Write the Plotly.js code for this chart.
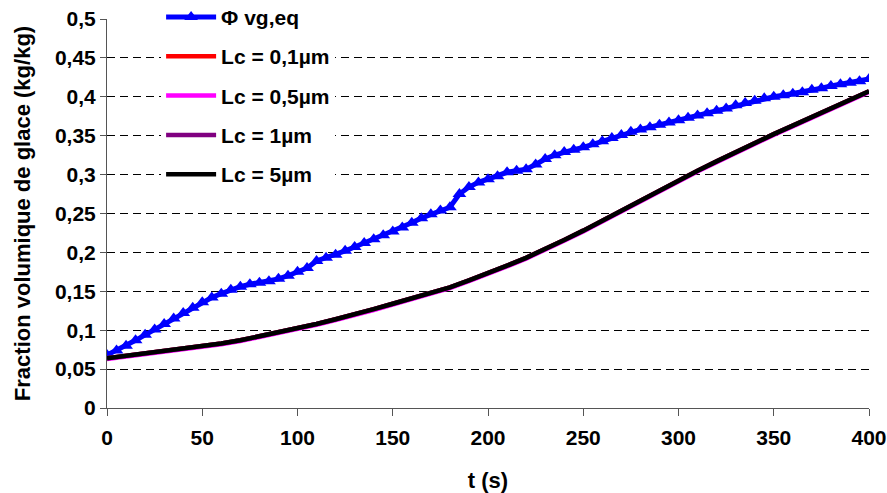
<!DOCTYPE html>
<html>
<head>
<meta charset="utf-8">
<script src="https://cdn.plot.ly/plotly-3.0.1.min.js"></script>
<style>html,body{margin:0;padding:0;background:#fff;}#chart{width:887px;height:493px;}</style>
</head>
<body>
<div id="chart"></div>
<script>
// Φ vg,eq series (every 5 s)
const tPhi = [0,5,10,15,20,25,30,35,40,45,50,55,60,65,70,75,80,85,90,95,100,105,110,115,120,125,130,135,140,145,150,155,160,165,170,175,180,185,190,195,200,205,210,215,220,225,230,235,240,245,250,255,260,265,270,275,280,285,290,295,300,305,310,315,320,325,330,335,340,345,350,355,360,365,370,375,380,385,390,395,400];
const phiVgEq = [0.068,0.074,0.080,0.087,0.094,0.101,0.108,0.115,0.122,0.129,0.136,0.142,0.147,0.152,0.156,0.159,0.161,0.163,0.166,0.170,0.175,0.180,0.189,0.193,0.197,0.202,0.207,0.212,0.217,0.222,0.227,0.232,0.238,0.244,0.249,0.254,0.258,0.275,0.284,0.290,0.294,0.298,0.303,0.305,0.307,0.313,0.320,0.325,0.329,0.332,0.335,0.339,0.343,0.347,0.351,0.355,0.358,0.361,0.364,0.367,0.370,0.373,0.376,0.379,0.382,0.385,0.389,0.392,0.395,0.398,0.400,0.402,0.404,0.406,0.409,0.411,0.414,0.416,0.418,0.420,0.423];

// Lc series (every 10 s)
const tLc = [0,10,20,30,40,50,60,70,80,90,100,110,120,130,140,150,160,170,180,190,200,210,220,230,240,250,260,270,280,290,300,310,320,330,340,350,360,370,380,390,400];
const lc01 = [0.064,0.067,0.070,0.073,0.076,0.079,0.083,0.087,0.092,0.097,0.102,0.108,0.114,0.120,0.127,0.134,0.141,0.147,0.155,0.164,0.173,0.183,0.193,0.204,0.216,0.228,0.241,0.254,0.267,0.280,0.293,0.305,0.317,0.329,0.341,0.352,0.363,0.374,0.385,0.396,0.407];
const lc05 = [0.063,0.066,0.069,0.072,0.075,0.078,0.082,0.086,0.091,0.096,0.101,0.107,0.113,0.119,0.126,0.133,0.140,0.146,0.154,0.163,0.172,0.182,0.192,0.203,0.215,0.227,0.240,0.253,0.266,0.279,0.292,0.304,0.316,0.328,0.340,0.351,0.362,0.373,0.384,0.395,0.406];
const lc1  = [0.064,0.067,0.070,0.073,0.076,0.079,0.083,0.087,0.092,0.097,0.102,0.108,0.114,0.120,0.127,0.134,0.141,0.147,0.155,0.164,0.173,0.183,0.193,0.204,0.216,0.228,0.241,0.254,0.267,0.280,0.293,0.305,0.317,0.329,0.341,0.352,0.363,0.374,0.385,0.396,0.407];
const lc5  = [0.064,0.067,0.070,0.073,0.076,0.079,0.083,0.087,0.092,0.097,0.102,0.108,0.114,0.120,0.127,0.134,0.141,0.147,0.155,0.164,0.173,0.183,0.193,0.204,0.216,0.228,0.241,0.254,0.267,0.280,0.293,0.305,0.317,0.329,0.341,0.352,0.363,0.374,0.385,0.396,0.407];

const seriesNames = ['Φ vg,eq','Lc = 0,1µm','Lc = 0,5µm','Lc = 1µm','Lc = 5µm'];
const xTickVals = [0,50,100,150,200,250,300,350,400];
const xTickText = ['0','50','100','150','200','250','300','350','400'];
const yTickVals = [0,0.05,0.1,0.15,0.2,0.25,0.3,0.35,0.4,0.45,0.5];
const yTickText = ['0','0,05','0,1','0,15','0,2','0,25','0,3','0,35','0,4','0,45','0,5'];

const FONT = 'Liberation Sans, Arial, sans-serif';
const lcColors = ['#ff0000','#ff00ff','#800080','#000000'];
const lcData = [lc01, lc05, lc1, lc5];

const traces = [{
  x: tPhi, y: phiVgEq, name: seriesNames[0], type: 'scatter', mode: 'lines+markers',
  line: {color: '#0000ff', width: 5},
  marker: {symbol: 'triangle-up', size: 12, color: '#0000ff'},
  legendgroup: 'g0'
}];
lcData.forEach((d, i) => {
  traces.push({
    x: tLc, y: d, name: seriesNames[i + 1], type: 'scatter', mode: 'lines',
    line: {color: lcColors[i], width: 4.5},
    legendgroup: 'g' + (i + 1)
  });
});

const layout = {
  width: 887, height: 493,
  margin: {l: 107, r: 18, t: 19, b: 85, autoexpand: false},
  paper_bgcolor: '#ffffff', plot_bgcolor: '#ffffff',
  font: {family: FONT, size: 21, color: '#000', weight: 'bold'},
  showlegend: true,
  legend: {
    x: 0.071, y: 1.057, xanchor: 'left', yanchor: 'top',
    bgcolor: '#ffffff', borderwidth: 0,
    font: {family: FONT, size: 21, color: '#000', weight: 'bold'},
    tracegroupgap: 9, itemwidth: 50
  },
  xaxis: {
    range: [0, 400], tickvals: xTickVals, ticktext: xTickText,
    ticks: 'outside', ticklen: 7, tickcolor: '#555', tickwidth: 1,
    ticklabelstandoff: 4,
    showline: true, linecolor: '#555', linewidth: 1,
    showgrid: false, zeroline: false,
    tickfont: {family: FONT, size: 21, color: '#000', weight: 'bold'},
    title: {text: 't (s)', font: {family: FONT, size: 22, color: '#000', weight: 'bold'}, standoff: 24}
  },
  yaxis: {
    range: [0, 0.5], tickvals: yTickVals, ticktext: yTickText,
    ticks: 'outside', ticklen: 6, tickcolor: '#555', tickwidth: 1,
    showline: true, linecolor: '#555', linewidth: 1,
    showgrid: true, gridcolor: '#000', gridwidth: 1, griddash: '8px,5px',
    zeroline: false,
    tickfont: {family: FONT, size: 21, color: '#000', weight: 'bold'},
    title: {text: 'Fraction volumique de glace (kg/kg)', font: {family: FONT, size: 22, color: '#000', weight: 'bold'}, standoff: 18}
  }
};

Plotly.newPlot('chart', traces, layout, {displayModeBar: false, staticPlot: true});
</script>
</body>
</html>
